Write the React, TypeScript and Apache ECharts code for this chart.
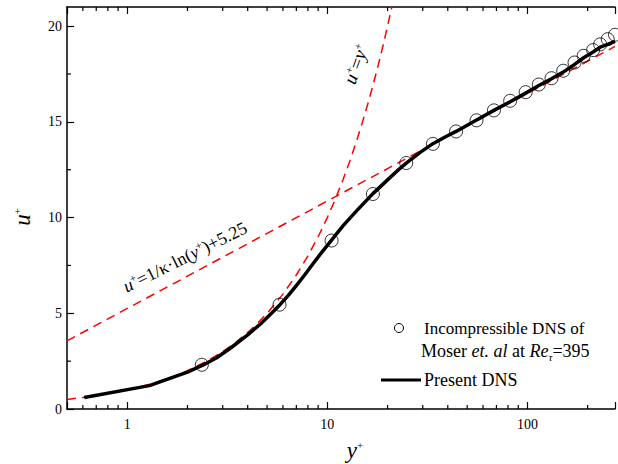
import React, { useEffect, useRef } from "react";
import * as echarts from "echarts";

// ---- data ----
// Moser et al. (Re_tau = 395) circles
const moserYPlus = [2.36, 5.77, 10.5, 16.9, 24.8, 33.7, 44.0, 55.7, 68, 82, 98, 114, 132, 151, 172, 191, 213, 231, 252, 274];
const moserUPlus = [2.31, 5.45, 8.8, 11.23, 12.85, 13.85, 14.5, 15.08, 15.6, 16.1, 16.55, 16.95, 17.28, 17.67, 18.1, 18.45, 18.75, 19.05, 19.32, 19.55];

// Present DNS (solid black)
const dnsYPlus = [0.61, 1.29, 2.0, 2.4, 2.8, 3.3, 4.0, 4.7, 5.2, 5.8, 6.4, 7.0, 7.7, 8.5, 9.4, 10.5, 12.0, 14.0, 16.9, 20.0, 22.4, 24.8, 29, 33.7, 39, 44, 55.7, 68, 82, 98, 114, 132, 151, 172, 191, 213, 231, 252, 274];
const dnsUPlus = [0.6, 1.22, 1.93, 2.3, 2.68, 3.2, 3.87, 4.5, 4.95, 5.45, 5.95, 6.45, 7.0, 7.6, 8.2, 8.82, 9.58, 10.35, 11.25, 11.97, 12.45, 12.84, 13.39, 13.86, 14.22, 14.5, 15.1, 15.6, 16.05, 16.5, 16.9, 17.25, 17.6, 18.0, 18.35, 18.65, 18.9, 19.05, 19.2];

// viscous sublayer reference line u+ = y+ (red dashed)
const viscYPlus = [0.5, 0.6, 0.7, 0.8, 0.9, 1, 1.2, 1.4, 1.6, 1.8, 2, 2.5, 3, 3.5, 4, 4.5, 5, 6, 7, 8, 9, 10, 11, 12, 13, 14, 15, 16, 17, 18, 19, 20, 21];
const viscUPlus = [0.5, 0.6, 0.7, 0.8, 0.9, 1, 1.2, 1.4, 1.6, 1.8, 2, 2.5, 3, 3.5, 4, 4.5, 5, 6, 7, 8, 9, 10, 11, 12, 13, 14, 15, 16, 17, 18, 19, 20, 21];

// log law reference line (red dashed), straight on the log axis
const logLawYPlus = [0.5, 274];
const logLawUPlus = [3.56, 18.94];

// axis ticks
const xMin = 0.5;
const xMax = 274;
const yMin = 0;
const yMax = 21;
const yInterval = 5;
const xMinorTicks = [0.6, 0.7, 0.8, 0.9, 2, 3, 4, 5, 6, 7, 8, 9, 20, 30, 40, 50, 60, 70, 80, 90, 200];
const yMinorTicks = [2.5, 7.5, 12.5, 17.5];

const FONT = "'Liberation Serif', 'Times New Roman', serif";

const zip = (a: number[], b: number[]) => a.map((v, i) => [v, b[i]]);

export default function App() {
  const ref = useRef<HTMLDivElement>(null);
  useEffect(() => {
    if (!ref.current) return;
    const chart = echarts.init(ref.current, null, { renderer: "svg" });
    const axisLineStyle = { color: "#000", width: 1.5 };
    const sup = { fontFamily: FONT, fontSize: 11, verticalAlign: "top", lineHeight: 11, fill: "#000" };
    const legendFont = 18;
    const option: any = {
      animation: false,
      backgroundColor: "#fff",
      grid: { left: 67, right: 0, top: 7, bottom: 55 },
      xAxis: [
        {
          type: "log",
          logBase: 10,
          min: xMin,
          max: xMax,
          position: "bottom",
          axisLine: { show: true, lineStyle: axisLineStyle },
          axisTick: { show: true, inside: true, length: 7, lineStyle: { color: "#000", width: 1.2 } },
          axisLabel: {
            show: true,
            margin: 8,
            fontFamily: FONT,
            fontSize: 14,
            color: "#000",
            formatter: (v: number) => {
              const l = Math.log10(v);
              return Math.abs(l - Math.round(l)) < 1e-6 ? String(Math.round(v)) : "";
            },
          },
          splitLine: { show: false },
          minorTick: { show: false },
        },
        {
          type: "log",
          logBase: 10,
          min: xMin,
          max: xMax,
          position: "top",
          axisLine: { show: true, lineStyle: axisLineStyle },
          axisTick: { show: true, inside: true, length: 7, lineStyle: { color: "#000", width: 1.2 } },
          axisLabel: { show: false },
          splitLine: { show: false },
        },
      ],
      yAxis: [
        {
          type: "value",
          min: yMin,
          max: yMax,
          interval: yInterval,
          axisLine: { show: true, lineStyle: axisLineStyle },
          axisTick: { show: true, inside: true, length: 7, lineStyle: { color: "#000", width: 1.2 } },
          axisLabel: { show: true, margin: 5, fontFamily: FONT, fontSize: 14, color: "#000", showMaxLabel: false },
          splitLine: { show: false },
        },
      ],
      series: [
        {
          type: "line",
          name: "u+=y+",
          data: zip(viscYPlus, viscUPlus),
          showSymbol: false,
          symbol: "none",
          lineStyle: { color: "#ff0000", width: 1.5, type: [9, 6] },
          z: 2,
          silent: true,
        },
        {
          type: "line",
          name: "log law",
          data: zip(logLawYPlus, logLawUPlus),
          showSymbol: false,
          symbol: "none",
          lineStyle: { color: "#ff0000", width: 1.5, type: [9, 6] },
          z: 2,
          silent: true,
        },
        {
          type: "line",
          name: "Present DNS",
          data: zip(dnsYPlus, dnsUPlus),
          showSymbol: false,
          symbol: "none",
          lineStyle: { color: "#000", width: 3.5, join: "round" },
          z: 3,
          silent: true,
        },
        {
          type: "scatter",
          name: "Moser",
          data: zip(moserYPlus, moserUPlus),
          symbol: "circle",
          symbolSize: 13,
          itemStyle: { color: "rgba(0,0,0,0)", borderColor: "#000", borderWidth: 1 },
          z: 4,
          silent: true,
        },
        {
          type: "custom",
          name: "xminor",
          data: xMinorTicks.map((v) => [v, 0]),
          encode: { x: 0, y: 1 },
          clip: false,
          silent: true,
          z: 5,
          renderItem: (params: any, api: any) => {
            const cs = params.coordSys;
            const x = api.coord([api.value(0), 0])[0];
            const st = { stroke: "#000", lineWidth: 1.2 };
            return {
              type: "group",
              children: [
                { type: "line", shape: { x1: x, y1: cs.y + cs.height, x2: x, y2: cs.y + cs.height - 4 }, style: st },
                { type: "line", shape: { x1: x, y1: cs.y, x2: x, y2: cs.y + 4 }, style: st },
              ],
            };
          },
        },
        {
          type: "custom",
          name: "yminor",
          data: yMinorTicks.map((v) => [1, v]),
          encode: { x: 0, y: 1 },
          clip: false,
          silent: true,
          z: 5,
          renderItem: (params: any, api: any) => {
            const cs = params.coordSys;
            const y = api.coord([1, api.value(1)])[1];
            return {
              type: "line",
              shape: { x1: cs.x, y1: y, x2: cs.x + 4, y2: y },
              style: { stroke: "#000", lineWidth: 1.2 },
            };
          },
        },
      ],
      graphic: [
        // axis titles
        {
          type: "text",
          x: 355,
          y: 450,
          style: {
            text: "{i|y}{s|+}",
            align: "center",
            verticalAlign: "middle",
            rich: {
              i: { fontFamily: FONT, fontStyle: "italic", fontSize: 23, lineHeight: 22, fill: "#000" },
              s: sup,
            },
          },
        },
        {
          type: "text",
          x: 22,
          y: 217,
          rotation: Math.PI / 2,
          style: {
            text: "{i|u}{s|+}",
            align: "center",
            verticalAlign: "middle",
            rich: {
              i: { fontFamily: FONT, fontStyle: "italic", fontSize: 23, lineHeight: 22, fill: "#000" },
              s: sup,
            },
          },
        },
        // annotations
        {
          type: "text",
          x: 356,
          y: 64,
          rotation: (70 * Math.PI) / 180,
          style: {
            text: "{i|u}{s|+}{n|=}{i|y}{s|+}",
            align: "center",
            verticalAlign: "middle",
            rich: {
              i: { fontFamily: FONT, fontStyle: "italic", fontSize: 19, lineHeight: 20, fill: "#000" },
              n: { fontFamily: FONT, fontSize: 19, lineHeight: 20, fill: "#000" },
              s: sup,
            },
          },
        },
        {
          type: "text",
          x: 185,
          y: 257,
          rotation: (26.5 * Math.PI) / 180,
          style: {
            text: "{i|u}{s|+}{n|=1/κ·ln(}{i|y}{s|+}{n|)+5.25}",
            align: "center",
            verticalAlign: "middle",
            rich: {
              i: { fontFamily: FONT, fontStyle: "italic", fontSize: 18, lineHeight: 20, fill: "#000" },
              n: { fontFamily: FONT, fontSize: 18, lineHeight: 20, fill: "#000" },
              s: sup,
            },
          },
        },
        // legend
        {
          type: "circle",
          shape: { cx: 399, cy: 328, r: 4.5 },
          style: { fill: "none", stroke: "#000", lineWidth: 1 },
        },
        {
          type: "text",
          x: 424,
          y: 328,
          style: {
            text: "{n|Incompressible DNS of}",
            align: "left",
            verticalAlign: "middle",
            rich: { n: { fontFamily: FONT, fontSize: 17, lineHeight: 22, fill: "#000" } },
          },
        },
        {
          type: "text",
          x: 421,
          y: 351,
          style: {
            text: "{n|Moser }{i|et. al}{n| at }{i|Re}{b|τ}{n|=395}",
            align: "left",
            verticalAlign: "middle",
            rich: {
              n: { fontFamily: FONT, fontSize: legendFont, lineHeight: 22, fill: "#000" },
              i: { fontFamily: FONT, fontStyle: "italic", fontSize: legendFont, lineHeight: 22, fill: "#000" },
              b: { fontFamily: FONT, fontStyle: "italic", fontSize: 11, lineHeight: 11, verticalAlign: "bottom", fill: "#000" },
            },
          },
        },
        {
          type: "line",
          shape: { x1: 381, y1: 380, x2: 421, y2: 380 },
          style: { stroke: "#000", lineWidth: 3 },
        },
        {
          type: "text",
          x: 424,
          y: 380,
          style: {
            text: "{n|Present DNS}",
            align: "left",
            verticalAlign: "middle",
            rich: { n: { fontFamily: FONT, fontSize: legendFont, lineHeight: 22, fill: "#000" } },
          },
        },
      ],
    };
    chart.setOption(option);
    return () => chart.dispose();
  }, []);
  return <div ref={ref} style={{ position: "fixed", left: 0, top: 0, width: 618, height: 464 }} />;
}
